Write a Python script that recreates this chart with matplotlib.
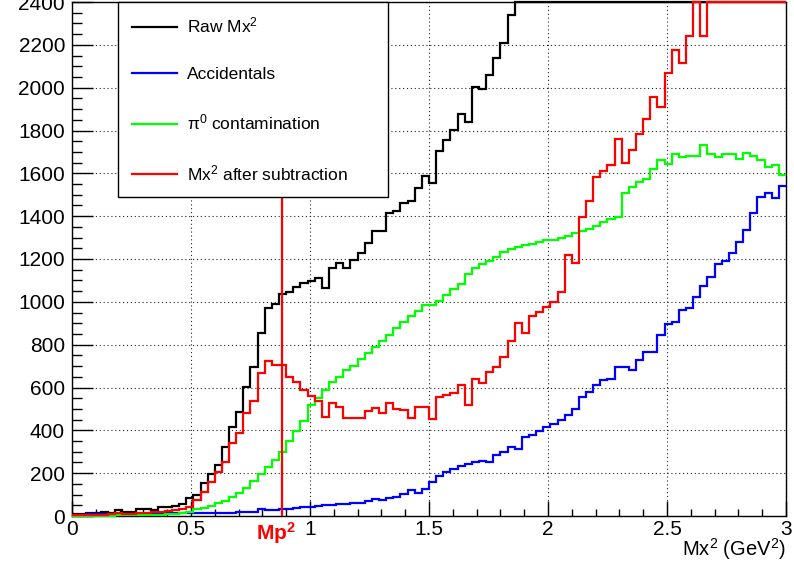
import numpy as np
import matplotlib
matplotlib.use("Agg")
import matplotlib.pyplot as plt
from matplotlib.lines import Line2D
from matplotlib.ticker import MultipleLocator, FormatStrFormatter

# Binning of the missing-mass-squared spectrum (GeV^2)
x_min, x_max, n_bins = 0.0, 3.0, 100
y_max = 2400
mp2 = 0.938272 ** 2          # proton mass squared

# Bin contents (100 bins of 0.03 GeV^2)
raw_counts = [
    10, 11, 16, 16, 17, 15, 27, 21, 21, 32, 32, 30, 40, 40, 45, 58, 82,
    100, 152, 195, 238, 324, 417, 484, 604, 694, 856, 969, 990, 1036, 1047, 1070, 1089,
    1095, 1112, 1066, 1159, 1183, 1156, 1195, 1227, 1277, 1333, 1333, 1414, 1425, 1461, 1473, 1531, 1588, 1555,
    1704, 1754, 1801, 1879, 1840, 2001, 1992, 2059, 2138, 2208, 2341, 2480, 2500, 2590, 2620, 2660,
    2740, 2800, 2990, 2990, 3230, 3330, 3490, 3570, 3620, 3860, 3850, 3920, 4070, 4200, 4350, 4420, 4610,
    4770, 4750, 4890, 5100, 5050, 5200, 5250, 5300, 5350, 5400, 5450, 5500, 5550, 5600, 5600, 5650,
]
accidental_counts = [
    5, 6, 8, 10, 8, 7, 9, 8, 10, 10, 9, 10, 11, 12, 12, 13, 13,
    13, 14, 14, 14, 15, 15, 20, 20, 21, 34, 30, 30, 31, 32, 38, 40,
    42, 45, 50, 52, 55, 56, 60, 63, 70, 81, 77, 86, 89, 102, 120, 108, 128, 160,
    188, 205, 220, 235, 243, 250, 258, 250, 285, 298, 321, 313, 368, 379, 395, 415,
    430, 446, 470, 501, 556, 579, 614, 634, 642, 697, 697, 684, 728, 767, 767, 846, 896,
    905, 963, 971, 1021, 1073, 1115, 1175, 1190, 1226, 1281, 1336, 1417, 1488, 1506, 1483, 1543,
]
pi0_counts = [
    1, 1, 2, 2, 2, 2, 3, 3, 3, 4, 4, 5, 6, 8, 10, 14, 20,
    31, 39, 47, 60, 72, 88, 106, 132, 165, 195, 230, 262, 300, 350, 395, 442,
    520, 553, 590, 628, 650, 680, 702, 732, 761, 789, 818, 846, 876, 906, 935, 959, 983, 985,
    1005, 1034, 1062, 1084, 1131, 1159, 1178, 1190, 1209, 1235, 1245, 1255, 1265, 1272, 1280, 1287,
    1290, 1297, 1308, 1323, 1331, 1342, 1355, 1375, 1386, 1394, 1506, 1535, 1558, 1574, 1621, 1660, 1644,
    1688, 1676, 1680, 1683, 1730, 1688, 1676, 1688, 1688, 1668, 1696, 1683, 1660, 1629, 1640, 1590,
]
subtracted_counts = [
    3, 4, 6, 5, 5, 8, 12, 8, 9, 14, 16, 17, 19, 22, 28, 35, 40,
    75, 110, 160, 205, 254, 339, 386, 482, 538, 666, 725, 705, 705, 650, 627, 590,
    560, 539, 461, 527, 508, 458, 458, 458, 492, 503, 481, 527, 500, 495, 456, 508, 508, 453,
    556, 564, 572, 614, 517, 642, 619, 673, 697, 744, 817, 900, 853, 932, 951, 974,
    1000, 1045, 1221, 1182, 1394, 1472, 1582, 1613, 1641, 1762, 1648, 1707, 1785, 1856, 1958, 1911, 2070,
    2177, 2114, 2243, 2500, 2243, 2550, 2600, 2620, 2700, 2750, 2800, 2850, 2900, 2950, 3000, 3050,
]

series_labels = ["Raw Mx$^{2}$", "Accidentals", "\u03c0$^{0}$ contamination", "Mx$^{2}$ after subtraction"]
series_colors = ["#000000", "#0000ff", "#00ff00", "#ff0000"]

plt.rcParams["font.family"] = ["Liberation Sans", "DejaVu Sans"]
plt.rcParams["mathtext.fontset"] = "custom"
plt.rcParams["mathtext.rm"] = "Liberation Sans"
plt.rcParams["mathtext.it"] = "Liberation Sans:italic"
plt.rcParams["mathtext.bf"] = "Liberation Sans:bold"

fig = plt.figure(figsize=(7.94, 5.62), dpi=100)
ax = fig.add_axes([72 / 794, 46 / 562, 714 / 794, 514 / 562])

edges = np.linspace(x_min, x_max, n_bins + 1)
all_counts = [raw_counts, accidental_counts, pi0_counts, subtracted_counts]
for counts, color in zip(all_counts, series_colors):
    # overflowing bins run along the top of the frame
    ax.stairs(np.minimum(counts, y_max), edges, color=color, lw=1.6,
              baseline=None, zorder=3, clip_on=False)

ax.axvline(mp2, color="#ff0000", lw=1.6, zorder=3)

ax.set_xlim(x_min, x_max)
ax.set_ylim(0, y_max)

ax.xaxis.set_major_locator(MultipleLocator(0.5))
ax.xaxis.set_minor_locator(MultipleLocator(0.1))
ax.yaxis.set_major_locator(MultipleLocator(200))
ax.yaxis.set_minor_locator(MultipleLocator(50))
ax.xaxis.set_major_formatter(FormatStrFormatter("%g"))
ax.yaxis.set_major_formatter(FormatStrFormatter("%g"))

ax.tick_params(axis="x", which="major", direction="in", length=10.8, width=1,
               labelsize=15, pad=3, top=False)
ax.tick_params(axis="x", which="minor", direction="in", length=5.4, width=1, top=False)
ax.tick_params(axis="y", which="major", direction="in", length=15, width=1,
               labelsize=15, pad=5, right=False)
ax.tick_params(axis="y", which="minor", direction="in", length=7.5, width=1, right=False)

ax.set_axisbelow(True)
ax.grid(which="major", color="#222222", linestyle=(0, (1, 2.5)), lw=0.8)
for sp in ax.spines.values():
    sp.set_linewidth(1.0)
    sp.set_zorder(2.5)

ax.set_xlabel("Mx$^{2}$ (GeV$^{2}$)", fontsize=14.5, loc="right")
ax.xaxis.label.set_verticalalignment("bottom")
ax.xaxis.set_label_coords(1.0, -0.0893)

ax.text(mp2 - 0.025, -0.008, "Mp$^{\\mathbf{2}}$", transform=ax.get_xaxis_transform(),
        color="#ff0000", fontsize=15, fontweight="bold", ha="center", va="top")

handles = [Line2D([], [], color=c, lw=1.6) for c in series_colors]
leg = ax.legend(handles, series_labels, loc="upper left",
                bbox_to_anchor=((118 - 72) / 714, 0.0, (388 - 118) / 714, 1.0),
                mode="expand", fontsize=12.5, frameon=True, fancybox=False,
                framealpha=1, edgecolor="black", borderpad=0.8,
                labelspacing=1.78, handlelength=2.6, handletextpad=0.55,
                borderaxespad=0.0)
leg.get_frame().set_linewidth(1.0)
leg.set_zorder(5)

fig.savefig("out.png", dpi=100)
